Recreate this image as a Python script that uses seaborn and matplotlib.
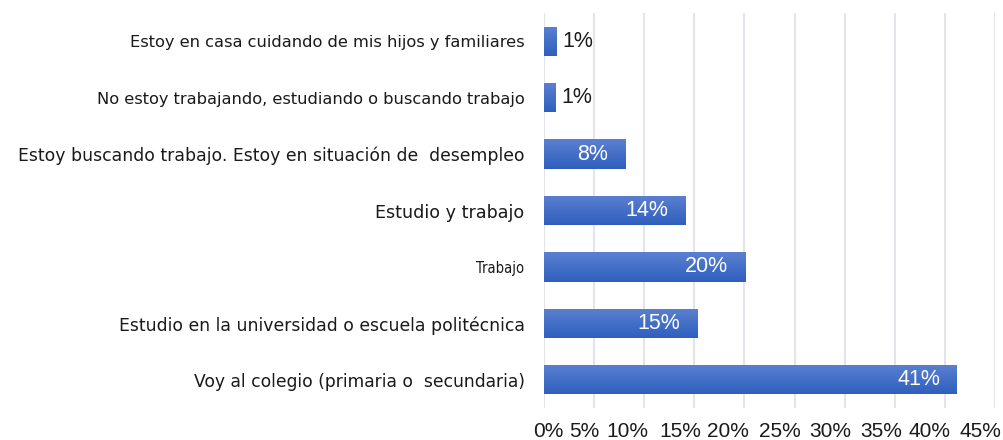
import numpy as np
import pandas as pd
import matplotlib
matplotlib.use('Agg')
import matplotlib.pyplot as plt
import matplotlib.transforms as mtransforms
import seaborn as sns
from matplotlib.colors import LinearSegmentedColormap

categorias = [
    'Estoy en casa cuidando de mis hijos y familiares',
    'No estoy trabajando, estudiando o buscando trabajo',
    'Estoy buscando trabajo. Estoy en situación de  desempleo',
    'Estudio y trabajo',
    'Trabajo',
    'Estudio en la universidad o escuela politécnica',
    'Voy al colegio (primaria o  secundaria)',
]
porcentajes = [1.2, 1.1, 8.1, 14.1, 20.1, 15.3, 41.2]
etiquetas = ['1%', '1%', '8%', '14%', '20%', '15%', '41%']
xticks = [0, 5, 10, 15, 20, 25, 30, 35, 40, 45]

df = pd.DataFrame({'cat': categorias, 'pct': porcentajes})

sns.set_style('white')
plt.rcParams['font.family'] = ['DejaVu Sans']

fig = plt.figure(figsize=(10.04, 4.4), dpi=100)
ax = fig.add_axes([544 / 1004, 1 - 408 / 440, (995 - 544) / 1004, (408 - 13) / 440])

sns.barplot(data=df, x='pct', y='cat', orient='h', color='#4472C4',
            width=0.52, ax=ax, zorder=3)

# gradiente vertical en cada barra (claro arriba, oscuro abajo)
cmap = LinearSegmentedColormap.from_list('g', ['#5B80D0', '#2F5FBE'])
grad = np.linspace(0, 1, 64).reshape(-1, 1)
for p in ax.patches:
    x0, y0 = p.get_x(), p.get_y()
    w, h = p.get_width(), p.get_height()
    p.set_facecolor('none')
    p.set_edgecolor('none')
    im = ax.imshow(grad, cmap=cmap, aspect='auto', origin='upper',
                   extent=[x0, x0 + w, y0 + h, y0], zorder=3)
    im.set_clip_path(p)

ax.set_xlim(0, 45)
ax.set_ylim(6.5, -0.5)
ax.set_xticks(xticks)
ax.set_xticklabels([f'{t}%' for t in xticks], fontsize=15,
                   color='#1a1a1a', family='Liberation Sans')
ax.set_xlabel('')
ax.set_ylabel('')
ax.tick_params(axis='y', length=0, pad=14, labelsize=11.5, labelcolor='#1a1a1a')
ax.tick_params(axis='x', length=0, pad=10)

# en el original las etiquetas del eje x quedan algo corridas a la izquierda
desp = [4, -10, -17, -14, -17, -15, -14, -14, -15, -15]
for lab, dx in zip(ax.get_xticklabels(), desp):
    lab.set_transform(lab.get_transform() +
                      mtransforms.ScaledTranslation(dx / 100, 0, fig.dpi_scale_trans))

# tamaños por etiqueta para imitar el espaciado del original
tam = {0: 11.7, 1: 11.7, 2: 12.4, 3: 12.6, 4: 10.5, 5: 12.4, 6: 12.3}
for i, lab in enumerate(ax.get_yticklabels()):
    lab.set_fontsize(tam[i])
    if lab.get_text() == 'Trabajo':
        lab.set_fontstretch('condensed')

ax.grid(axis='x', color='#E2E5EA', linewidth=1.5, zorder=0)
ax.grid(axis='y', visible=False)
for s in ax.spines.values():
    s.set_visible(False)

for i, (v, t) in enumerate(zip(porcentajes, etiquetas)):
    if v < 5:
        ax.text(v + 0.6, i, t, va='center', ha='left', fontsize=15.5,
                family='Liberation Sans', color='#1a1a1a', zorder=4)
    else:
        ax.text(v - 1.7, i, t, va='center', ha='right', fontsize=15.5,
                family='Liberation Sans', color='white', zorder=4)

fig.savefig('out.png', dpi=100)
